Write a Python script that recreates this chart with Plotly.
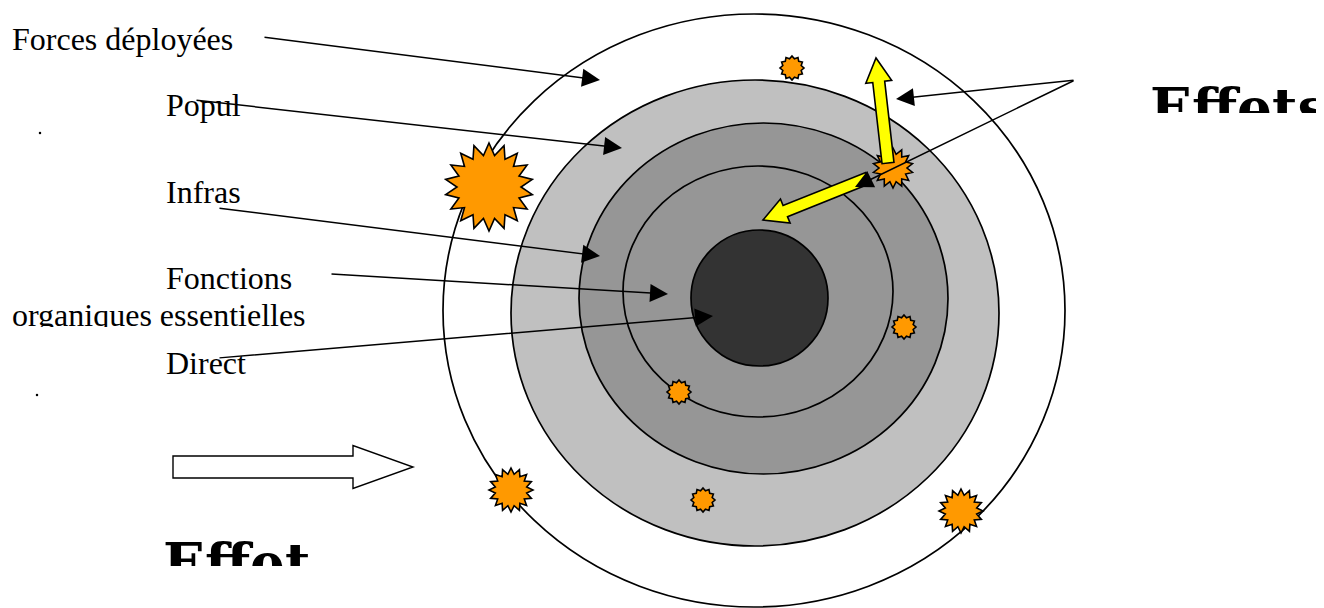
import numpy as np
import plotly.graph_objects as go

W, H = 1324, 608
PAD = 8  # page body margin of the html page

# ---- data (diagram elements, in picture units) ----
ring_names = ["Forces déployées", "Popul", "Infras", "Fonctions", "Direct"]
ring_boxes = [(443, 1065, 14, 607), (511, 999, 80, 546), (579, 948, 123, 474),
              (623, 893, 166, 417), (691, 828, 230, 366)]
ring_fills = ["#FFFFFF", "#C0C0C0", "#969696", "#969696", "#333333"]

label_texts = ["Forces déployées", "Popul", "Infras", "Fonctions", "organiques essentielles", "Direct"]
label_x = [12, 166, 166, 166, 12, 166]
label_y = [42, 108, 195, 281, 318, 366]

pointer_tails = [(263, 37), (195, 100), (218, 208), (330, 274), (218, 358), (1075, 80), (1075, 80)]
pointer_tips = [(600, 80), (622, 148), (600, 256), (668, 294), (713, 316), (896, 99), (855, 187)]

burst_centers = [(489, 187), (511, 490), (961, 511), (893, 168), (792, 68), (904, 327), (679, 392), (703, 500)]
burst_outer = [44, 22, 22, 20, 12, 12, 12, 12]
burst_inner = [32, 16, 16, 14, 9.5, 9.5, 9.5, 9.5]
burst_points = [18, 16, 16, 14, 12, 12, 12, 12]

yellow_arrows = [((888, 163), (876, 58)), ((868, 178), (763, 220))]
hollow_arrow = ((173, 467), (413, 467))

big_texts = ["Effets", "Effet"]
big_x = [1150, 163]
big_y = [113, 568]

dots_x = [40, 37]
dots_y = [133, 395]


def poly_path(pts):
    return "M " + " L ".join(f"{x:.2f},{y:.2f}" for x, y in pts) + " Z"


def arrow_poly(tail, tip, shaft_w, head_w, head_len):
    t = np.array(tail, float)
    p = np.array(tip, float)
    d = p - t
    L = np.linalg.norm(d)
    u = d / L
    n = np.array([-u[1], u[0]])
    b = p - u * head_len
    pts = [t + n * shaft_w / 2, b + n * shaft_w / 2, b + n * head_w / 2, p,
           b - n * head_w / 2, b - n * shaft_w / 2, t - n * shaft_w / 2]
    return pts


def burst_poly(c, ro, ri, n):
    pts = []
    for k in range(2 * n):
        a = np.pi * k / n - np.pi / 2
        r = ro if k % 2 == 0 else ri
        pts.append((c[0] + r * np.cos(a), c[1] + r * np.sin(a)))
    return pts


shapes = []
for (x0, x1, y0, y1), fc in zip(ring_boxes, ring_fills):
    shapes.append(dict(type="circle", xref="x", yref="y", x0=x0, x1=x1, y0=y0, y1=y1,
                       fillcolor=fc, line=dict(color="black", width=1.7), layer="above"))

for c, ro, ri, n in zip(burst_centers, burst_outer, burst_inner, burst_points):
    shapes.append(dict(type="path", xref="x", yref="y", path=poly_path(burst_poly(c, ro, ri, n)),
                       fillcolor="#FF9900", line=dict(color="black", width=1.6), layer="above"))

for tail, tip in yellow_arrows:
    shapes.append(dict(type="path", xref="x", yref="y",
                       path=poly_path(arrow_poly(tail, tip, 12, 26, 24)),
                       fillcolor="#FFFF00", line=dict(color="black", width=1.6), layer="above"))

shapes.append(dict(type="path", xref="x", yref="y",
                   path=poly_path(arrow_poly(hollow_arrow[0], hollow_arrow[1], 22, 43, 60)),
                   fillcolor="#FFFFFF", line=dict(color="black", width=1.4), layer="above"))

# clipping of text boxes (as in the original document)
shapes.append(dict(type="rect", xref="x", yref="y", x0=1140, x1=W, y0=113, y1=175,
                   fillcolor="white", line=dict(width=0), layer="above"))
shapes.append(dict(type="rect", xref="x", yref="y", x0=150, x1=330, y0=566, y1=H,
                   fillcolor="white", line=dict(width=0), layer="above"))
shapes.append(dict(type="rect", xref="x", yref="y", x0=5, x1=320, y0=327, y1=344,
                   fillcolor="white", line=dict(width=0), layer="above"))

annotations = []
for (tx, ty), (px, py) in zip(pointer_tails, pointer_tips):
    annotations.append(dict(x=px, y=py, ax=tx, ay=ty, xref="x", yref="y", axref="x", ayref="y",
                            text="", showarrow=True, arrowhead=2, arrowsize=2.4, arrowwidth=1.5,
                            arrowcolor="black", standoff=0))

fig = go.Figure()
fig.add_trace(go.Scatter(x=label_x, y=label_y, text=label_texts, mode="text",
                         textposition="middle right",
                         textfont=dict(family="Liberation Serif", size=32, color="black"),
                         hoverinfo="skip", showlegend=False))
fig.add_trace(go.Scatter(x=big_x, y=big_y, text=[f"<b>{t}</b>" for t in big_texts], mode="text",
                         textposition="middle right",
                         textfont=dict(family="DejaVu Serif", size=55, color="black"),
                         hoverinfo="skip", showlegend=False))
fig.add_trace(go.Scatter(x=dots_x, y=dots_y, mode="markers",
                         marker=dict(size=2.5, color="black"), hoverinfo="skip", showlegend=False))

fig.update_layout(width=W - PAD, height=H - PAD, margin=dict(l=0, r=0, t=0, b=0),
                  paper_bgcolor="white", plot_bgcolor="white",
                  shapes=shapes, annotations=annotations,
                  xaxis=dict(range=[PAD, W], visible=False, fixedrange=True),
                  yaxis=dict(range=[H, PAD], visible=False, fixedrange=True))
fig.write_html("out.html")
